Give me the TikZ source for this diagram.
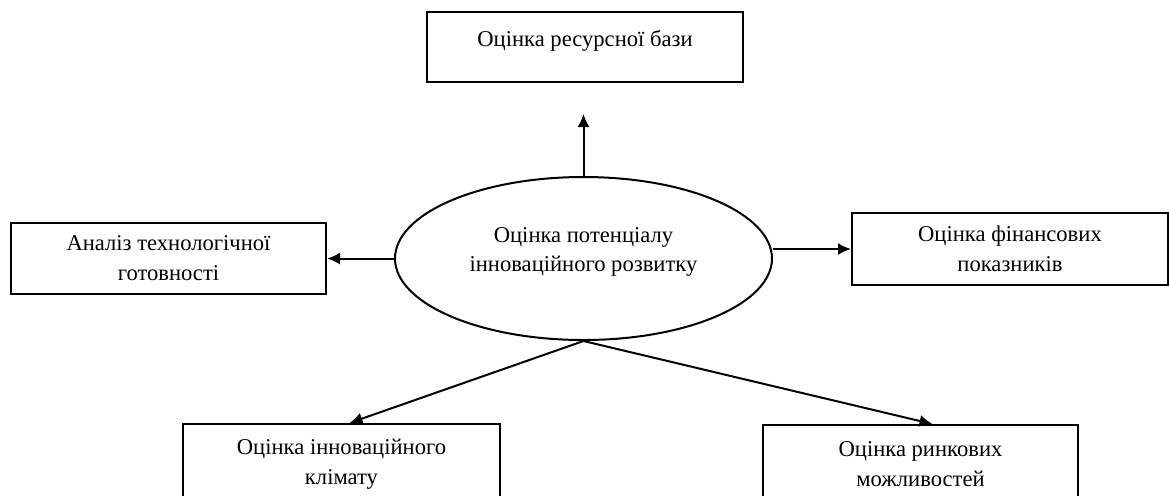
\documentclass[tikz,border=0pt]{standalone}
\usepackage{fontspec}
\setmainfont{Liberation Serif}
\usetikzlibrary{shapes.geometric,arrows.meta}

\tikzset{
  box/.style={rectangle, draw, line width=1pt, align=center, inner sep=0pt,
    font=\fontsize{11.3}{15}\selectfont},
  oval/.style={ellipse, draw, line width=1pt, inner sep=0pt,
    minimum width=188.5pt, minimum height=81.5pt},
  txt/.style={align=center, inner sep=0pt, font=\fontsize{11.3}{14.5}\selectfont},
  arr/.style={line width=1pt, -{Latex[length=6.5pt,width=6pt]}}
}

\begin{document}
\begin{tikzpicture}[x=0.5pt,y=-0.5pt]
    \path[use as bounding box, clip] (0,0) rectangle (1169,495);

    % centre
    \node[oval] (ell) at (583.5,258.5) {};
    \node[txt] (ellt) at (583.5,252) {Оцінка потенціалу\\інноваційного розвитку};

    % boxes
    \node[box, minimum width=158pt, minimum height=35pt,
      text height=8pt, text depth=9pt] (res) at (585,47) {Оцінка ресурсної бази};
    \node[box, minimum width=157.5pt, minimum height=35.5pt] (ana) at (168.5,258.5)
      {Аналіз технологічної\\готовності};
    \node[box, minimum width=158pt, minimum height=36pt] (fin) at (1010,249)
      {Оцінка фінансових\\показників};
    \node[box, minimum width=158.5pt, minimum height=40pt] (klim) at (341.5,464)
      {Оцінка інноваційного\\клімату};
    \node[box, minimum width=157.5pt, minimum height=39pt] (rynk) at (920.5,464)
      {Оцінка ринкових\\можливостей};

    \coordinate (up) at ([yshift=31pt]ell.north);

    % arrows
    \draw[arr] (ell.north) -- (up);
    \draw[arr] (ell.west) -- (ana.east);
    \draw[arr] (ell.east |- fin.west) -- (fin.west);
    \draw[arr] (ell.south) -- ([xshift=4pt]klim.north);
    \draw[arr] (ell.south) -- ([xshift=6pt]rynk.north);
\end{tikzpicture}
\end{document}
